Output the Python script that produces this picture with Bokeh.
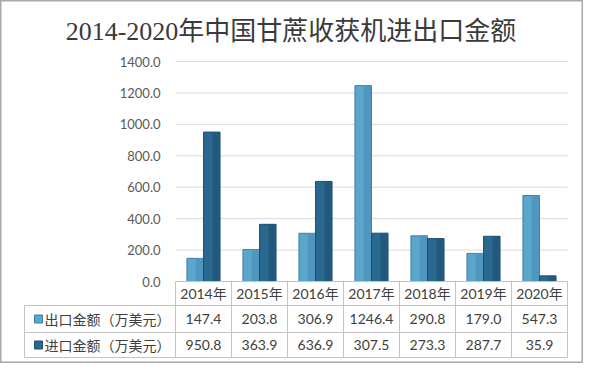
from bokeh.plotting import figure
from bokeh.models import Range1d, Label, ColumnDataSource
from bokeh.core.properties import value
from bokeh.embed import file_html
from bokeh.resources import INLINE
import numpy as np

# ---------------- data ----------------
title = "2014-2020年中国甘蔗收获机进出口金额"
years = ["2014年", "2015年", "2016年", "2017年", "2018年", "2019年", "2020年"]
export_vals = [147.4, 203.8, 306.9, 1246.4, 290.8, 179.0, 547.3]
import_vals = [950.8, 363.9, 636.9, 307.5, 273.3, 287.7, 35.9]
series_names = ["出口金额（万美元）", "进口金额（万美元）"]
y_ticks = [0, 200, 400, 600, 800, 1000, 1200, 1400]

# ---------------- layout ----------------
W, H = 583, 363
cat_px = 56.0          # pixel width of one category column
chart_left = 175.0     # canvas x where first category starts
label_left = 24.0      # canvas x where table label column starts
zero_y = 281.0         # canvas y (from top) of value 0
top_y = 61.0           # canvas y of top tick
upp = (y_ticks[-1] - y_ticks[0]) / (zero_y - top_y)  # value units per pixel
row_px = [0, 24, 51, 76]   # table row boundaries (px below zero)

n = len(years)
x_start = -chart_left / cat_px
x_end = (W - chart_left) / cat_px
y_end = zero_y * upp
y_start = -(H - zero_y) * upp
x_lab = -(chart_left - label_left) / cat_px

p = figure(width=W, height=H, output_backend="svg", toolbar_location=None,
           x_range=Range1d(x_start, x_end), y_range=Range1d(y_start, y_end),
           x_axis_type=None, y_axis_type=None, min_border=0)
p.outline_line_color = "#a9a9a9"
p.outline_line_width = 2
p.background_fill_color = "white"
p.border_fill_color = "white"

font_num = value("Lato, 'Noto Sans CJK SC'")
font_cjk = value("'Noto Sans CJK SC'")

# grid lines
grid_t = [t for t in y_ticks if t != 0]
p.segment(x0=[0] * len(grid_t), x1=[n] * len(grid_t), y0=grid_t, y1=grid_t,
          line_color="#d9d9d9", line_width=1)

# y tick labels
p.text(x=[0] * len(y_ticks), y=y_ticks, text=[f"{t:.1f}" for t in y_ticks],
       x_offset=-15, text_align="right", text_baseline="middle",
       text_font=font_num, text_font_size="13px", text_color="#595959")

# bars (two-tone to suggest the original's shading)
xc = np.arange(n) + 0.5
off = 0.148
bw = 0.295
src = ColumnDataSource(dict(xe=xc - off, xi=xc + off, ex=export_vals, im=import_vals))
exp_color = "#5ba6cd"
imp_color = "#2a6890"
p.vbar(x="xe", top="ex", bottom=0, width=bw, source=src,
       fill_color=exp_color, line_color="#3f7ea3", line_width=1)
p.vbar(x="xi", top="im", bottom=0, width=bw, source=src,
       fill_color=imp_color, line_color="#1f4f6d", line_width=1)
# darker right half shading
src2 = ColumnDataSource(dict(xe=xc - off + bw / 4, xi=xc + off + bw / 4, ex=export_vals, im=import_vals))
p.vbar(x="xe", top="ex", bottom=0, width=bw / 2 - 0.02, source=src2,
       fill_color="#4f97bf", line_color=None)
p.vbar(x="xi", top="im", bottom=0, width=bw / 2 - 0.02, source=src2,
       fill_color="#225a7e", line_color=None)

# table lines
rows_y = [-r * upp for r in row_px]
tl = "#c3c3c3"
p.segment(x0=[0], x1=[n], y0=[0], y1=[0], line_color=tl, line_width=1)
p.segment(x0=[x_lab] * 3, x1=[n] * 3, y0=rows_y[1:], y1=rows_y[1:], line_color=tl, line_width=1)
p.segment(x0=list(range(n + 1)), x1=list(range(n + 1)), y0=[0] * (n + 1),
          y1=[rows_y[-1]] * (n + 1), line_color=tl, line_width=1)
p.segment(x0=[x_lab], x1=[x_lab], y0=[rows_y[1]], y1=[rows_y[-1]], line_color=tl, line_width=1)

# row centers
cy = [(rows_y[i] + rows_y[i + 1]) / 2 for i in range(3)]

# header (years)
p.text(x=xc, y=[cy[0]] * n, text=years, text_align="center", text_baseline="middle",
       text_font=font_num, text_font_size="14px", text_color="#404040")
# values
p.text(x=xc, y=[cy[1]] * n, text=[f"{v:.1f}" for v in export_vals], text_align="center",
       text_baseline="middle", text_font=font_num, text_font_size="14px", text_color="#404040")
p.text(x=xc, y=[cy[2]] * n, text=[f"{v:.1f}" for v in import_vals], text_align="center",
       text_baseline="middle", text_font=font_num, text_font_size="14px", text_color="#404040")

# legend keys + labels
sq_x = x_lab + 14 / cat_px
p.scatter(x=[sq_x] * 2, y=cy[1:], marker="square", size=8,
          fill_color=[exp_color, imp_color], line_color=["#3f7ea3", "#1f4f6d"])
p.text(x=[x_lab] * 2, y=cy[1:], text=series_names, x_offset=20, text_align="left",
       text_baseline="middle", text_font=font_cjk, text_font_size="14px", text_color="#404040")

# title
p.add_layout(Label(x=W / 2 - 1, y=H - 31, x_units="screen", y_units="screen", text=title,
                   text_align="center", text_baseline="middle",
                   text_font="'Liberation Serif', 'Noto Sans CJK SC'", text_font_size="26px",
                   text_color="#3a3a3a"))

open("out.html", "w").write(file_html(p, INLINE))
